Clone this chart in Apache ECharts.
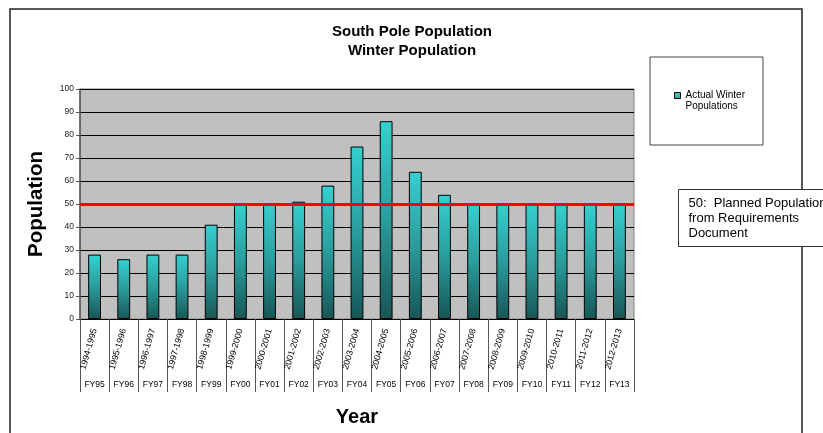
<!DOCTYPE html>
<html>
<head>
<meta charset="utf-8">
<script src="https://cdn.jsdelivr.net/npm/echarts@6/dist/echarts.min.js"></script>
<style>
  html, body { margin: 0; padding: 0; background: #fff; }
  #chart { width: 823px; height: 433px; }
</style>
</head>
<body>
<div id="chart"></div>
<script>
// Winter-over population at South Pole station by season
const seasons = ['1994-1995','1995-1996','1996-1997','1997-1998','1998-1999','1999-2000','2000-2001',
  '2001-2002','2002-2003','2003-2004','2004-2005','2005-2006','2006-2007','2007-2008','2008-2009',
  '2009-2010','2010-2011','2011-2012','2012-2013'];
const fiscalYears = ['FY95','FY96','FY97','FY98','FY99','FY00','FY01','FY02','FY03','FY04','FY05',
  'FY06','FY07','FY08','FY09','FY10','FY11','FY12','FY13'];
const winterPop = [28, 26, 28, 28, 41, 50, 50, 51, 58, 75, 86, 64, 54, 50, 50, 50, 50, 50, 50];
const plannedPop = 50;
const yTicks = { min: 0, max: 100, step: 10 };

const chart = echarts.init(document.getElementById('chart'), null, { renderer: 'canvas' });

const barFill = new echarts.graphic.LinearGradient(0, 0, 0, 1, [
  { offset: 0, color: '#36d0d0' },
  { offset: 0.5, color: '#2a9c9c' },
  { offset: 1, color: '#175656' }
]);

// legend swatch sits beside the first text line: square on top, empty anchor point below
const legendSwatch = 'path://M0,0h6v6h-6zM0,17';

chart.setOption({
  animation: false,
  textStyle: { fontFamily: 'Liberation Sans, Arial, sans-serif' },
  title: {
    text: 'South Pole Population\nWinter Population',
    left: 407, top: 17, textAlign: 'center',
    textStyle: { fontSize: 15, fontWeight: 'bold', color: '#000', lineHeight: 19 }
  },
  legend: {
    data: [{ name: 'Actual Winter\nPopulations', icon: legendSwatch }],
    left: 669, top: 85, orient: 'vertical',
    itemWidth: 6, itemHeight: 17, itemGap: 4,
    textStyle: { fontSize: 10, color: '#000', lineHeight: 11 },
    itemStyle: { borderColor: '#000', borderWidth: 1 }
  },
  grid: { left: 80, right: 189, top: 89, bottom: 114, show: true, backgroundColor: '#c0c0c0', borderColor: '#808080', borderWidth: 1 },
  xAxis: [
    {
      type: 'category', data: seasons, position: 'bottom',
      name: 'Year', nameLocation: 'middle', nameGap: 88,
      nameTextStyle: { fontSize: 20, fontWeight: 'bold', color: '#000' },
      axisLine: { lineStyle: { color: '#000', width: 1 } },
      axisTick: { show: true, interval: 0, length: 73, lineStyle: { color: '#555' } },
      axisLabel: { interval: 0, rotate: 74, fontSize: 8.8, color: '#000', margin: 10 }
    },
    {
      type: 'category', data: fiscalYears, position: 'bottom',
      axisLine: { show: false }, axisTick: { show: false },
      axisLabel: { interval: 0, fontSize: 8.5, color: '#000', margin: 61 }
    }
  ],
  yAxis: {
    type: 'value', min: yTicks.min, max: yTicks.max, interval: yTicks.step,
    name: 'Population', nameLocation: 'middle', nameGap: 33, nameRotate: 90,
    nameTextStyle: { fontSize: 20.5, fontWeight: 'bold', color: '#000' },
    axisLine: { show: true, lineStyle: { color: '#555', width: 1.5 } },
    axisTick: { show: true, length: 4, lineStyle: { color: '#555' } },
    axisLabel: { fontSize: 8.5, color: '#222', margin: 6 },
    splitLine: { lineStyle: { color: '#000', width: 1 } }
  },
  series: [
    {
      name: 'Actual Winter\nPopulations', type: 'bar', data: winterPop, barWidth: '44%',
      itemStyle: { color: barFill, borderColor: '#000', borderWidth: 1 },
      markLine: {
        silent: true, symbol: ['none', 'none'],
        label: { show: false },
        lineStyle: { color: '#ff0000', width: 3, type: 'solid' },
        data: [{ yAxis: plannedPop }]
      }
    }
  ],
  graphic: [
    // outer chart frame
    { type: 'rect', z: 0, silent: true, shape: { x: 10, y: 9, width: 792, height: 440 },
      style: { fill: 'none', stroke: '#222', lineWidth: 1.5 } },
    // legend frame
    { type: 'rect', z: 1, silent: true, shape: { x: 650, y: 57, width: 113, height: 88 },
      style: { fill: '#fff', stroke: '#444', lineWidth: 1 } },
    // planned-population note
    { type: 'group', left: 678, top: 189, z: 5, children: [
      { type: 'rect', shape: { x: 0, y: 0, width: 170, height: 57 },
        style: { fill: '#fff', stroke: '#333', lineWidth: 1 } },
      { type: 'text', x: 10, y: 6,
        style: { text: '50:  Planned Population\nfrom Requirements\nDocument',
          font: '13px "Liberation Sans", Arial, sans-serif', fill: '#000', lineHeight: 15 } }
    ] }
  ]
});
</script>
</body>
</html>
